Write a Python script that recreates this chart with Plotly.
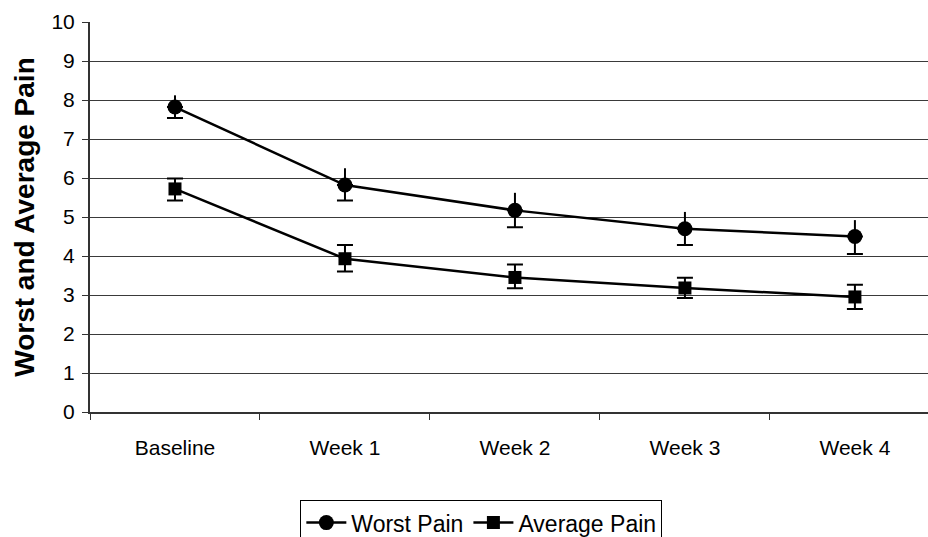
import plotly.graph_objects as go

# Study visits and pain scores (0-10 scale)
categories = ["Baseline", "Week 1", "Week 2", "Week 3", "Week 4"]

worst_pain = [7.82, 5.82, 5.17, 4.70, 4.50]
worst_err_plus = [0.30, 0.43, 0.45, 0.43, 0.42]
worst_err_minus = [0.28, 0.40, 0.43, 0.42, 0.45]

average_pain = [5.72, 3.93, 3.45, 3.18, 2.95]
average_err_plus = [0.27, 0.35, 0.33, 0.26, 0.31]
average_err_minus = [0.30, 0.33, 0.28, 0.26, 0.31]

y_ticks = list(range(0, 11))

FONT = "Liberation Sans, Arial, sans-serif"
INK = "#000000"

fig = go.Figure()

# Upper whiskers of the worst-pain series are drawn without caps
fig.add_trace(go.Scatter(
    x=categories, y=worst_pain, mode="markers",
    marker=dict(size=1, color="rgba(0,0,0,0)"),
    error_y=dict(type="data", symmetric=False, array=worst_err_plus,
                 arrayminus=[0] * len(worst_pain),
                 color=INK, thickness=2, width=0),
    showlegend=False, hoverinfo="skip",
))

fig.add_trace(go.Scatter(
    x=categories, y=worst_pain, mode="lines+markers", name="Worst Pain",
    line=dict(color=INK, width=2.5),
    marker=dict(symbol="circle", size=15, color=INK),
    error_y=dict(type="data", symmetric=False, array=[0] * len(worst_pain),
                 arrayminus=worst_err_minus,
                 color=INK, thickness=2, width=8),
))

fig.add_trace(go.Scatter(
    x=categories, y=average_pain, mode="lines+markers", name="Average Pain",
    line=dict(color=INK, width=2.5),
    marker=dict(symbol="square", size=13, color=INK),
    error_y=dict(type="data", symmetric=False, array=average_err_plus,
                 arrayminus=average_err_minus,
                 color=INK, thickness=2, width=8),
))

fig.update_layout(
    width=928, height=537,
    margin=dict(l=90, r=0, t=22, b=125, autoexpand=False),
    paper_bgcolor="white", plot_bgcolor="white",
    font=dict(family=FONT, size=21, color=INK),
    showlegend=True,
    legend=dict(
        orientation="h", x=0.467, xanchor="center", y=-0.226, yanchor="top",
        bordercolor=INK, borderwidth=1, bgcolor="white",
        font=dict(family=FONT, size=23, color=INK),
        itemwidth=40, tracegroupgap=0,
    ),
)

fig.update_xaxes(
    type="category", categoryorder="array", categoryarray=categories,
    range=[-0.5, 4.43],
    showgrid=False, zeroline=False,
    showline=True, linecolor="#333333", linewidth=2,
    ticks="outside", tickson="boundaries", ticklen=6, tickcolor="#333333",
    tickwidth=1, ticklabelstandoff=16,
    tickfont=dict(family=FONT, size=21, color=INK),
)

fig.update_yaxes(
    range=[0, 10], tickvals=y_ticks,
    showgrid=True, gridcolor="#3a3a3a", gridwidth=1,
    zeroline=False,
    showline=True, linecolor="#333333", linewidth=2,
    ticks="outside", ticklen=6, tickcolor="#333333", tickwidth=1,
    ticklabelstandoff=3,
    tickfont=dict(family=FONT, size=21, color=INK),
    title=dict(text="<b>Worst and Average Pain</b>", standoff=9,
               font=dict(family=FONT, size=28, color=INK)),
)

fig.write_html("out.html")
